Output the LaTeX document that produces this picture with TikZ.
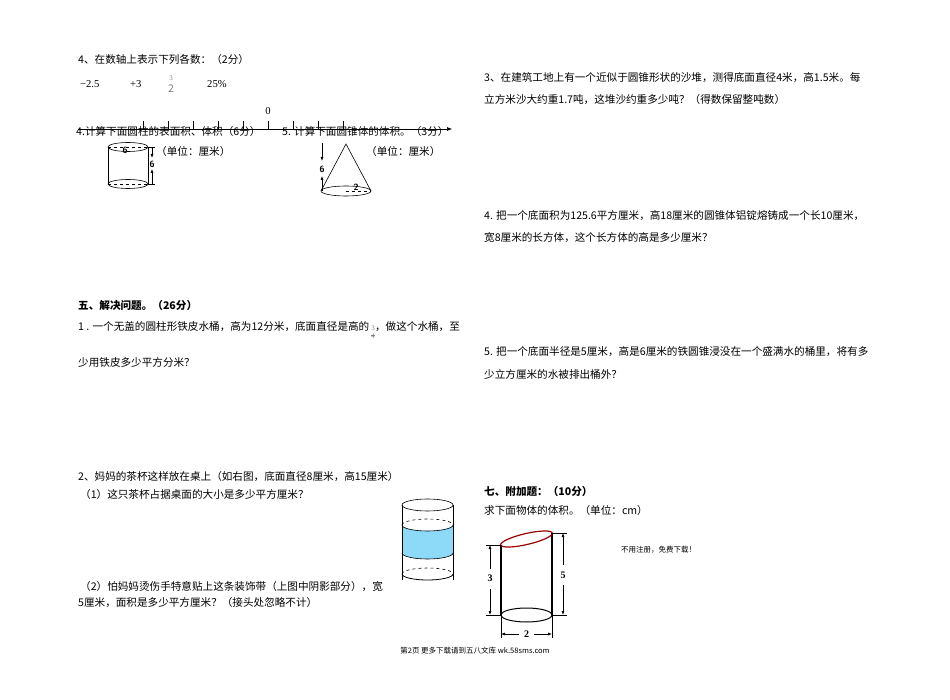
\documentclass[tikz,border=0pt]{standalone}
\usepackage{fontspec}
\setmainfont{Noto Sans CJK SC}
\newfontfamily\lat{Liberation Serif}
\usetikzlibrary{arrows.meta}
\newcommand{\smallfr}[2]{\raisebox{-4pt}{\color{gray}\lat\fontsize{7}{7}\selectfont\begin{tabular}{@{}c@{}}#1\\[-2pt]\rule{4pt}{0.3pt}\\[-4pt]#2\end{tabular}}}
\begin{document}
\begin{tikzpicture}[x=1pt,y=-1pt,
  txt/.style={anchor=west,inner sep=0pt,font=\fontsize{10.6}{12}\selectfont},
  btxt/.style={txt,font=\fontsize{10.6}{12}\selectfont\bfseries},
  dim/.style={-{Latex[length=4pt,width=3pt]},line width=0.6pt},
  lbl/.style={inner sep=1pt,font=\sffamily\bfseries\fontsize{9}{10}\selectfont}]
\useasboundingbox[fill=white] (0,0) rectangle (950,700);
% ---- left column
\node[txt] (q4) at (78,59) {4、在数轴上表示下列各数：（2分）};
\node[txt] (n1) at (80,84) {\lat −2.5};
\node[txt] (n2) at (130,84) {\lat +3};
\node[txt,text=gray,align=center] (n3) at (168,84) {\lat\fontsize{7}{8}\selectfont 3\\2};
\node[txt] (n4) at (207,84) {\lat 25\%};
\coordinate (axL) at (78,129); \coordinate (axR) at (452,129);
\draw[-{Latex[length=5pt,width=4pt]},line width=0.6pt] (axL) -- (axR);
\foreach \x in {143,168,193,218,243,268,293,318,343} \draw[line width=0.6pt] (\x,129) -- (\x,121);
\node[txt,anchor=center] (zero) at (268,111) {\lat 0};
\node[txt] (q4b) at (76,131) {4.计算下面圆柱的表面积、体积（6分）};
\node[txt] (q5b) at (282,131) {5. 计算下面圆锥体的体积。（3分）};
% cylinder
\draw[line width=0.6pt] (128,147) ellipse (20 and 4.5);
\draw[line width=0.6pt] (108,147) -- (108,184) (148,147) -- (148,184);
\draw[line width=0.6pt] (128,184) ellipse (20 and 4.5);
\draw[dashed,line width=0.5pt] (108,147) -- (148,147) (108,184) -- (148,184);
\node[lbl] (c6) at (125,150) {6};
\coordinate (ch1) at (152,147); \coordinate (ch2) at (152,184);
\draw[line width=0.5pt] (148,147) -- (155,147) (148,184) -- (155,184);
\draw[dim] (ch1) -- (152,158); \draw[dim] (ch2) -- (152,169);
\node[lbl] (c6b) at (152,164) {6};
\node[txt] (u1) at (156,151) {（单位：厘米）};
% cone
\coordinate (apex) at (346,144);
\draw[line width=0.6pt] (346,191) ellipse (25 and 5);
\draw[line width=0.6pt] (321,191) -- (apex) -- (371,191);
\draw[dashed,line width=0.6pt] (346,191) -- (371,191);
\node[lbl] (r2) at (356,187) {2};
\draw[dim] (322,143) -- (322,161); \draw[dim] (322,191) -- (322,176);
\node[lbl] (h6) at (322,169) {6};
\node[txt] (u2) at (366,151) {（单位：厘米）};
% section five
\node[btxt] (s5) at (78,305) {五、解决问题。（26分）};
\node[txt] (p1a) at (78,331) {1 . 一个无盖的圆柱形铁皮水桶，高为12分米，底面直径是高的\,\smallfr{3}{4}，做这个水桶，至};
\node[txt] (p1b) at (78,362) {少用铁皮多少平方分米？};
\node[txt] (p2a) at (78,477) {2、妈妈的茶杯这样放在桌上（如右图，底面直径8厘米，高15厘米）};
\node[txt] (p2b) at (80,494) {（1）这只茶杯占据桌面的大小是多少平方厘米？};
\node[txt] (p2c) at (80,587) {（2）怕妈妈烫伤手特意贴上这条装饰带（上图中阴影部分），宽};
\node[txt] (p2d) at (78,603) {5厘米，面积是多少平方厘米？（接头处忽略不计）};
% cup
\fill[cyan!45] (402,525) arc (180:0:25.5 and 6) -- (453,553) arc (0:180:25.5 and 6) -- cycle;
\draw[line width=0.6pt] (427.5,505) ellipse (25.5 and 6);
\draw[line width=0.6pt] (402,505) -- (402,580) (453,505) -- (453,580);
\draw[dashed,line width=0.6pt] (402,525) arc (180:360:25.5 and 6);
\draw[line width=0.6pt] (402,525) arc (180:0:25.5 and 6);
\draw[line width=0.6pt] (402,553) arc (180:0:25.5 and 6);
\draw[dashed,line width=0.6pt] (402,574) arc (180:360:25.5 and 6);
\draw[line width=0.8pt] (402,574) arc (180:0:25.5 and 6);
% ---- right column
\node[txt] (r3a) at (484,78) {3、在建筑工地上有一个近似于圆锥形状的沙堆，测得底面直径4米，高1.5米。每};
\node[txt] (r3b) at (484,100) {立方米沙大约重1.7吨，这堆沙约重多少吨？（得数保留整吨数）};
\node[txt] (r4a) at (484,216) {4. 把一个底面积为125.6平方厘米，高18厘米的圆锥体铝锭熔铸成一个长10厘米，};
\node[txt] (r4b) at (484,238) {宽8厘米的长方体，这个长方体的高是多少厘米？};
\node[txt] (r5a) at (484,352) {5. 把一个底面半径是5厘米，高是6厘米的铁圆锥浸没在一个盛满水的桶里，将有多};
\node[txt] (r5b) at (484,374) {少立方厘米的水被排出桶外？};
\node[btxt] (s7) at (484,491) {七、附加题：（10分）};
\node[txt] (s7b) at (484,510) {求下面物体的体积。（单位：cm）};
% slanted cylinder
\draw[line width=1.3pt] (501,545) -- (501,615) (552,533) -- (552,615);
\draw[line width=1.2pt,red!60!black] (526.5,539) ellipse [x radius=26.5, y radius=5.5, rotate=13];
\draw[line width=1pt] (526.5,615) ellipse (25.5 and 7);
\draw[line width=0.5pt] (486,545) -- (501,545) (486,615) -- (501,615) (552,533) -- (567,533) (552,615) -- (567,615) (501,615) -- (501,638) (552,615) -- (552,638);
\draw[dim] (490,569) -- (490,545); \draw[dim] (490,589) -- (490,615);
\node[font=\lat\bfseries\fontsize{10}{10}\selectfont,inner sep=1pt] (d3) at (490,578) {3};
\draw[dim] (563,565) -- (563,533); \draw[dim] (563,585) -- (563,615);
\node[font=\lat\bfseries\fontsize{10}{10}\selectfont,inner sep=1pt] (d5) at (563,575) {5};
\draw[dim] (519,634) -- (501,634); \draw[dim] (534,634) -- (552,634);
\node[font=\lat\bfseries\fontsize{10}{10}\selectfont,inner sep=1pt] (d2) at (526.5,634) {2};
\node[txt,font=\fontsize{7.5}{9}\selectfont] (free) at (621,550) {不用注册，免费下载！};
\node[inner sep=0pt,font=\fontsize{7.5}{9}\selectfont] (foot) at (475,651) {第2页 更多下载请到五八文库 wk.58sms.com};
\end{tikzpicture}
\end{document}
